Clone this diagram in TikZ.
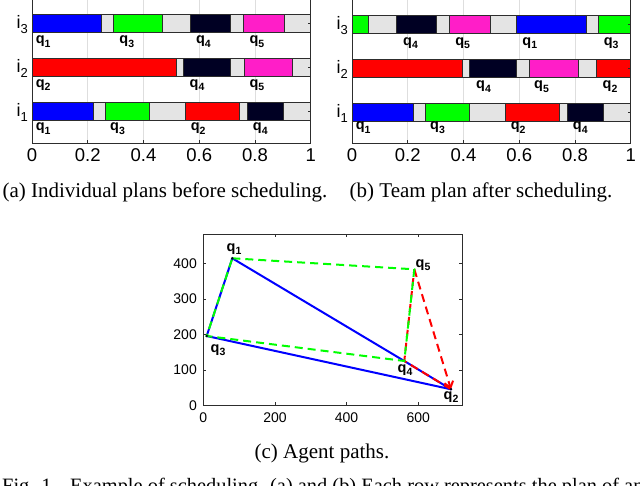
\documentclass[tikz,border=0pt]{standalone}
\usepackage{fontspec}
\setmainfont{Liberation Serif}
\newfontfamily\plotfont{Liberation Sans}
\usetikzlibrary{arrows.meta}
\definecolor{cblue}{RGB}{0,0,255}
\definecolor{cgreen}{RGB}{0,255,0}
\definecolor{cred}{RGB}{255,0,0}
\definecolor{cmag}{RGB}{255,30,200}
\definecolor{cnavy}{RGB}{0,0,35}
\definecolor{cgray}{RGB}{228,228,228}
\definecolor{axcol}{RGB}{45,45,45}
\definecolor{gridcol}{RGB}{222,222,222}
\newcommand{\ql}[1]{{\bfseries q}\raisebox{-3.5pt}{\fontsize{10.5}{10.5}\selectfont\bfseries #1}}
\newcommand{\qsm}[1]{{\bfseries q}\raisebox{-3.5pt}{\fontsize{10.5}{10.5}\selectfont\bfseries #1}}
\newcommand{\il}[1]{i\raisebox{-5pt}{\fontsize{13}{13}\selectfont #1}}
\tikzset{
  bar/.style={draw=axcol, line width=0.6pt},
  axline/.style={draw=axcol, line width=0.8pt},
  gridline/.style={draw=gridcol, line width=0.8pt},
  qlab/.style={font=\plotfont\fontsize{14.5}{14.5}\selectfont, inner sep=0pt},
  qlabs/.style={font=\plotfont\fontsize{14.5}{14.5}\selectfont, inner sep=0pt},
  ticklab/.style={font=\plotfont\fontsize{18.5}{18.5}\selectfont, inner sep=0pt},
  ticklabs/.style={font=\plotfont\fontsize{14}{14}\selectfont, inner sep=0pt},
  ilab/.style={font=\plotfont\fontsize{18}{18}\selectfont, inner sep=0pt, anchor=base east},
  caption/.style={font=\fontsize{21}{21}\selectfont, inner sep=0pt},
  figcap/.style={font=\fontsize{20.4}{20.4}\selectfont, inner sep=0pt},
  bluepath/.style={draw=cblue, line width=2pt},
  redpath/.style={draw=cred, line width=2pt, dash pattern=on 8pt off 5pt},
  greenpath/.style={draw=cgreen, line width=2pt, dash pattern=on 8pt off 5pt},
}
\begin{document}
\begin{tikzpicture}[x=1pt, y=-1pt]
\useasboundingbox (0,0) rectangle (640,486);

% ---------- Chart (a) ----------
\def\X{32}\def\W{278.7}
\foreach \t in {0.2,0.4,0.6,0.8} \draw[gridline] ({\X+\t*\W},0) -- ({\X+\t*\W},143);
\foreach \a/\b/\c in {0/.25/cblue,.25/.292/cgray,.292/.469/cgreen,.469/.568/cgray,.568/.713/cnavy,.713/.758/cgray,.758/.906/cmag,.906/1/cgray}
  \draw[bar, fill=\c] ({\X+\a*\W},14.3) rectangle ({\X+\b*\W},32.3);
\foreach \a/\b/\c in {0/.517/cred,.517/.542/cgray,.542/.713/cnavy,.713/.762/cgray,.762/.935/cmag,.935/1/cgray}
  \draw[bar, fill=\c] ({\X+\a*\W},58.7) rectangle ({\X+\b*\W},76.7);
\foreach \a/\b/\c in {0/.22/cblue,.22/.263/cgray,.263/.422/cgreen,.422/.549/cgray,.549/.745/cred,.745/.773/cgray,.773/.9/cnavy,.9/1/cgray}
  \draw[bar, fill=\c] ({\X+\a*\W},102.7) rectangle ({\X+\b*\W},120.3);
\draw[axline] (\X,0) -- (\X,143) -- ({\X+\W},143) -- ({\X+\W},0);
\foreach \t in {0.2,0.4,0.6,0.8} \draw[axline] ({\X+\t*\W},143) -- ({\X+\t*\W},140);
\foreach \yc in {23.3,67.7,111.5} \draw[axline] ({\X+\W},\yc) -- ({\X+\W-3},\yc);
\node[ilab] (a-i3) at (\X-4,28.3) {\il{3}};
\node[ilab] (a-i2) at (\X-4,72.7) {\il{2}};
\node[ilab] (a-i1) at (\X-4,116.5) {\il{1}};
\node[qlab] (a3-q1) at ({\X+.04*\W},41.8) {\ql{1}};
\node[qlab] (a3-q3) at ({\X+.34*\W},41.8) {\ql{3}};
\node[qlab] (a3-q4) at ({\X+.615*\W},41.8) {\ql{4}};
\node[qlab] (a3-q5) at ({\X+.807*\W},41.8) {\ql{5}};
\node[qlab] (a2-q2) at ({\X+.04*\W},85.3) {\ql{2}};
\node[qlab] (a2-q4) at ({\X+.592*\W},85.3) {\ql{4}};
\node[qlab] (a2-q5) at ({\X+.807*\W},85.3) {\ql{5}};
\node[qlab] (a1-q1) at ({\X+.04*\W},128.8) {\ql{1}};
\node[qlab] (a1-q3) at ({\X+.307*\W},128.8) {\ql{3}};
\node[qlab] (a1-q2) at ({\X+.596*\W},128.8) {\ql{2}};
\node[qlab] (a1-q4) at ({\X+.819*\W},128.8) {\ql{4}};
\foreach \t/\l in {0/0,0.2/0.2,0.4/0.4,0.6/0.6,0.8/0.8,1/1}
  \node[ticklab] (a-t\l) at ({\X+\t*\W},155) {\l};

% ---------- Chart (b) ----------
\def\X{352}
\foreach \t in {0.2,0.4,0.6,0.8} \draw[gridline] ({\X+\t*\W},0) -- ({\X+\t*\W},143.5);
\foreach \a/\b/\c in {0/.06/cgreen,.06/.16/cgray,.16/.303/cnavy,.303/.349/cgray,.349/.498/cmag,.498/.59/cgray,.59/.84/cblue,.84/.884/cgray,.884/1/cgreen}
  \draw[bar, fill=\c] ({\X+\a*\W},15.5) rectangle ({\X+\b*\W},33.5);
\foreach \a/\b/\c in {0/.394/cred,.394/.42/cgray,.42/.591/cnavy,.591/.636/cgray,.636/.813/cmag,.813/.876/cgray,.876/1/cred}
  \draw[bar, fill=\c] ({\X+\a*\W},59.5) rectangle ({\X+\b*\W},77.5);
\foreach \a/\b/\c in {0/.22/cblue,.22/.263/cgray,.263/.422/cgreen,.422/.549/cgray,.549/.745/cred,.745/.773/cgray,.773/.9/cnavy,.9/1/cgray}
  \draw[bar, fill=\c] ({\X+\a*\W},103.5) rectangle ({\X+\b*\W},121);
\draw[axline] (\X,0) -- (\X,143.5) -- ({\X+\W},143.5) -- ({\X+\W},0);
\foreach \t in {0.2,0.4,0.6,0.8} \draw[axline] ({\X+\t*\W},143.5) -- ({\X+\t*\W},140.5);
\foreach \yc in {24.5,68.5,112.2} \draw[axline] ({\X+\W},\yc) -- ({\X+\W-3},\yc);
\node[ilab] (b-i3) at (\X-4,29.5) {\il{3}};
\node[ilab] (b-i2) at (\X-4,73.5) {\il{2}};
\node[ilab] (b-i1) at (\X-4,117.2) {\il{1}};
\node[qlab] (b3-q4) at ({\X+.21*\W},43.2) {\ql{4}};
\node[qlab] (b3-q5) at ({\X+.397*\W},43.2) {\ql{5}};
\node[qlab] (b3-q1) at ({\X+.638*\W},43.2) {\ql{1}};
\node[qlab] (b3-q3) at ({\X+.93*\W},43.2) {\ql{3}};
\node[qlab] (b2-q4) at ({\X+.472*\W},86.7) {\ql{4}};
\node[qlab] (b2-q5) at ({\X+.68*\W},86.7) {\ql{5}};
\node[qlab] (b2-q2) at ({\X+.926*\W},86.7) {\ql{2}};
\node[qlab] (b1-q1) at ({\X+.04*\W},127.8) {\ql{1}};
\node[qlab] (b1-q3) at ({\X+.307*\W},127.8) {\ql{3}};
\node[qlab] (b1-q2) at ({\X+.596*\W},127.8) {\ql{2}};
\node[qlab] (b1-q4) at ({\X+.819*\W},127.8) {\ql{4}};
\foreach \t/\l in {0/0,0.2/0.2,0.4/0.4,0.6/0.6,0.8/0.8,1/1}
  \node[ticklab] (b-t\l) at ({\X+\t*\W},155.5) {\l};

% ---------- captions (a), (b) ----------
\node[caption, anchor=base] (capa) at (165,198) {(a) Individual plans before scheduling.};
\node[caption, anchor=base] (capb) at (481,198) {(b) Team plan after scheduling.};

% ---------- Chart (c) ----------
\draw[axline] (203.3,234.3) rectangle (462.3,405.3);
\foreach \xv/\l in {203.3/0,275/200,346.6/400,418.3/600} {
  \draw[axline] (\xv,405.3) -- (\xv,402.3);
  \draw[axline] (\xv,234.3) -- (\xv,237.3);
  \node[ticklabs] (c-x\l) at (\xv,418) {\l};
}
\foreach \yv/\l in {405.3/0,369.9/100,334.5/200,299.1/300,263.7/400} {
  \draw[axline] (203.3,\yv) -- (206.3,\yv);
  \draw[axline] (462.3,\yv) -- (459.3,\yv);
  \node[ticklabs, anchor=east] (c-y\l) at (197,\yv) {\l};
}
\coordinate (Q1) at (232.3,258.3);
\coordinate (Q5) at (414.3,269.3);
\coordinate (Q3) at (206.7,336);
\coordinate (Q4) at (404.3,361);
\coordinate (Q2) at (451,389.3);
\draw[bluepath, line join=round] (Q1) -- (Q3) -- (Q2) -- (Q4) -- (Q1);
\draw[redpath] (Q2) -- (Q4) -- (Q5);
\draw[redpath, -{Straight Barb[length=6pt,width=9pt]}] (Q5) -- (Q2);
\draw[greenpath] (Q1) -- (Q5) -- (Q4) -- (Q3) -- (Q1);
\foreach \p in {Q1,Q3,Q2} \fill[cnavy] (\p) circle (1.4);
\node[qlabs] (c-q1) at (234,249) {\qsm{1}};
\node[qlabs] (c-q5) at (423,265) {\qsm{5}};
\node[qlabs] (c-q3) at (218,350) {\qsm{3}};
\node[qlabs] (c-q4) at (405,370) {\qsm{4}};
\node[qlabs] (c-q2) at (451,397) {\qsm{2}};

\node[caption, anchor=base] (capc) at (322,458) {(c) Agent paths.};
\node[figcap, anchor=base west] (fig) at (2,492) {\makebox[68pt][l]{Fig. 1.}Example of scheduling. (a) and (b) Each row represents the plan of an};
\end{tikzpicture}
\end{document}
